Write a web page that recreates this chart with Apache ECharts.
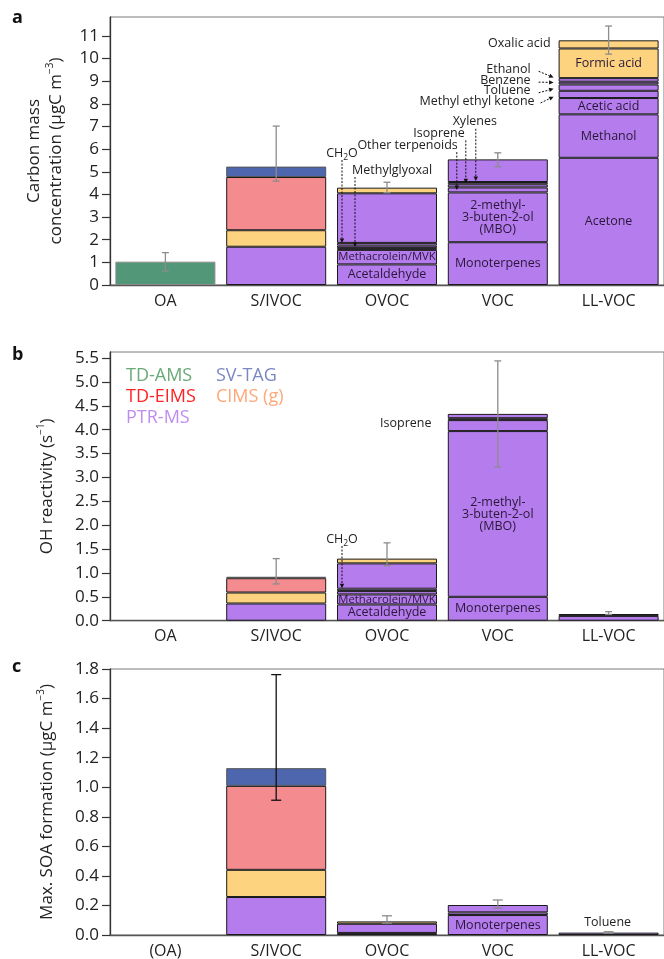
<!DOCTYPE html>
<html><head><meta charset="utf-8">
<script src="https://cdn.jsdelivr.net/npm/echarts@6/dist/echarts.min.js"></script>
<style>html,body{margin:0;padding:0;background:#fff}#c{width:664px;height:959px}</style>
</head><body><div id="c"></div>
<script>
// ---------------- DATA ----------------
const categoriesAB = ['OA', 'S/IVOC', 'OVOC', 'VOC', 'LL-VOC'];
const categoriesC = ['(OA)', 'S/IVOC', 'OVOC', 'VOC', 'LL-VOC'];

// Panel a: carbon mass concentration (µgC m-3), segments bottom -> top
const aOA    = [1.03];
const aSIVOC = [1.69, 0.73, 2.35, 0.46];
const aOVOC  = [0.91, 0.64, 0.08, 0.11, 0.12, 2.19, 0.25];
const aVOC   = [1.89, 2.20, 0.22, 0.14, 0.10, 1.00];
const aLLVOC = [5.62, 1.92, 0.72, 0.32, 0.28, 0.12, 0.16, 1.31, 0.36];

// Panel b: OH reactivity (s-1)
const bOA    = [];
const bSIVOC = [0.36, 0.23, 0.30, 0.03];
const bOVOC  = [0.34, 0.21, 0.07, 0.05, 0.53, 0.10];
const bVOC   = [0.50, 3.47, 0.23, 0.04, 0.09];
const bLLVOC = [0.10, 0.04];

// Panel c: max SOA formation (µgC m-3)
const cOA    = [];
const cSIVOC = [0.257, 0.184, 0.568, 0.120];
const cOVOC  = [0.014, 0.062, 0.016];
const cVOC   = [0.135, 0.018, 0.050];
const cLLVOC = [0.016];

// Instrument of each segment
const instOA    = ['AMS'];
const instSIVOC = ['PTR', 'CIMS', 'EIMS', 'TAG'];
const instOVOCa = ['PTR', 'PTR', 'PTR', 'PTR', 'PTR', 'PTR', 'CIMS'];
const instVOCa  = ['PTR', 'PTR', 'PTR', 'PTR', 'PTR', 'PTR'];
const instLLa   = ['PTR', 'PTR', 'PTR', 'PTR', 'PTR', 'PTR', 'PTR', 'CIMS', 'CIMS'];
const instOVOCb = ['PTR', 'PTR', 'PTR', 'PTR', 'PTR', 'CIMS'];
const instVOCb  = ['PTR', 'PTR', 'PTR', 'PTR', 'PTR'];
const instLLb   = ['PTR', 'PTR'];
const instOVOCc = ['PTR', 'PTR', 'CIMS'];
const instVOCc  = ['PTR', 'PTR', 'PTR'];
const instLLc   = ['PTR'];

// Segment names drawn inside bars
const MBO = '2-methyl-\n3-buten-2-ol\n(MBO)';
const namesOVOC = ['Acetaldehyde', 'Methacrolein/MVK'];
const namesVOC  = ['Monoterpenes', MBO];
const namesLL   = ['Acetone', 'Methanol', 'Acetic acid', '', '', '', '', 'Formic acid', ''];
const namesVOCc = ['Monoterpenes'];

// Error bars [low, high]
const errA = [[0.62, 1.43], [4.59, 7.02], [4.08, 4.54], [5.23, 5.84], [10.2, 11.44]];
const errB = [null, [0.77, 1.30], [1.15, 1.63], [3.22, 5.44], [0.13, 0.19]];
const errC = [null, [0.912, 1.762], [0.08, 0.13], [0.182, 0.237], [0.012, 0.022]];

// Tick labels
const ticksA = [0,1,2,3,4,5,6,7,8,9,10,11];
const ticksB = [0,0.5,1,1.5,2,2.5,3,3.5,4,4.5,5,5.5];
const ticksC = [0,0.2,0.4,0.6,0.8,1.0,1.2,1.4,1.6,1.8];

// Annotations (category, target value, label value); subscript parts as [main, sub, rest]
const annTextA   = [['CH', '2', 'O'], ['Methylglyoxal'], ['Other terpenoids'], ['Isoprene'], ['Xylenes'], ['Oxalic acid'], ['Ethanol'], ['Benzene'], ['Toluene'], ['Methyl ethyl ketone']];
const annCatA    = [2, 2, 3, 3, 3, 4, 4, 4, 4, 4];
const annTargetA = [1.86, 1.68, 4.20, 4.49, 4.60, 10.63, 9.17, 8.95, 8.67, 8.32];
const annLabelA  = [5.83, 5.08, 6.18, 6.70, 7.21, 10.66, 9.53, 9.05, 8.58, 8.13];
const annTextB   = [['CH', '2', 'O'], ['Isoprene']];
const annCatB    = [2, 3];
const annTargetB = [0.68, 4.12];
const annLabelB  = [1.71, 4.12];
const annTextC   = [['Toluene']];
const annCatC    = [4];
const annTargetC = [0.085];
const annLabelC  = [0.085];

// ---------------- STYLE ----------------
const FONT = '"Open Sans", "Noto Sans", sans-serif';
const COL = {AMS: '#529778', PTR: '#b57cee', CIMS: '#fdd380', EIMS: '#f48c8f', TAG: '#4d66ad'};
const BORDER = {AMS: '#8a8a8a', PTR: '#1a1a1a', CIMS: '#1a1a1a', EIMS: '#1a1a1a', TAG: '#555'};
// annotation layout: kind, label dx, align, arrow dx start, arrow dx end
const annLayoutA = [
  ['down', -45, 'center', -45], ['down', -35, 'left', -32], ['down', -40, 'right', -41],
  ['down', -33, 'right', -32], ['down', -23, 'center', -22], ['none', -58, 'right'],
  ['right', -78, 'right', -70, -55], ['right', -78, 'right', -70, -55],
  ['right', -78, 'right', -70, -55], ['right', -74, 'right', -68, -55]
];
const annLayoutB = [['down', -45, 'center', -45], ['none', -92, 'center']];
const annLayoutC = [['none', -1, 'center']];
const errColA = ['#8c8c8c', '#8c8c8c', '#8c8c8c', '#8c8c8c', '#8c8c8c'];
const errColB = errColA;
const errColC = ['#111', '#111', '#8c8c8c', '#8c8c8c', '#8c8c8c'];
const capHW = [3.5, 3.5, 5];
const ANN_FS = 12.5, SUB_FS = 8.5;

const measureCtx = document.createElement('canvas').getContext('2d');
function textW(t, fs) { measureCtx.font = fs + 'px ' + FONT; return measureCtx.measureText(t).width; }

// ---------------- BUILD ----------------
const series = [];
function buildBars(pi, segs, insts, names) {
  const n = Math.max(...segs.map(s => s.length));
  for (let i = 0; i < n; i++) {
    series.push({
      type: 'bar', xAxisIndex: pi, yAxisIndex: pi, stack: 'p' + pi, barWidth: 100,
      animation: false, silent: true,
      data: segs.map((s, ci) => {
        if (i >= s.length) return '-';
        const inst = insts[ci][i];
        const nm = names[ci] ? names[ci][i] : '';
        const item = {value: s[i], itemStyle: {color: COL[inst], borderColor: BORDER[inst], borderWidth: 1}};
        if (nm) {
          item.label = {show: true, position: 'inside', formatter: nm, color: '#2a1838',
            fontFamily: FONT, fontSize: nm === 'Methacrolein/MVK' ? 11.3 : 12.5, lineHeight: 12,
            textBorderWidth: 0};
        }
        return item;
      })
    });
  }
}
buildBars(0, [aOA, aSIVOC, aOVOC, aVOC, aLLVOC], [instOA, instSIVOC, instOVOCa, instVOCa, instLLa], [null, null, namesOVOC, namesVOC, namesLL]);
buildBars(1, [bOA, bSIVOC, bOVOC, bVOC, bLLVOC], [instOA, instSIVOC, instOVOCb, instVOCb, instLLb], [null, null, namesOVOC, namesVOC, null]);
buildBars(2, [cOA, cSIVOC, cOVOC, cVOC, cLLVOC], [instOA, instSIVOC, instOVOCc, instVOCc, instLLc], [null, null, null, namesVOCc, null]);

function errorSeries(pi, err, colors) {
  series.push({
    type: 'custom', xAxisIndex: pi, yAxisIndex: pi, z: 15, silent: true, animation: false,
    data: err.map((e, i) => e ? [i, e[0], e[1]] : null).filter(Boolean),
    encode: {x: 0, y: [1, 2]},
    renderItem(params, api) {
      const i = api.value(0);
      const lo = api.coord([i, api.value(1)]), hi = api.coord([i, api.value(2)]);
      const hw = capHW[pi];
      const st = {stroke: colors[i], lineWidth: 1.3};
      return {type: 'group', children: [
        {type: 'line', shape: {x1: lo[0], y1: lo[1], x2: hi[0], y2: hi[1]}, style: st},
        {type: 'line', shape: {x1: lo[0] - hw, y1: lo[1], x2: lo[0] + hw, y2: lo[1]}, style: st},
        {type: 'line', shape: {x1: hi[0] - hw, y1: hi[1], x2: hi[0] + hw, y2: hi[1]}, style: st}
      ]};
    }
  });
}
errorSeries(0, errA, errColA);
errorSeries(1, errB, errColB);
errorSeries(2, errC, errColC);

function arrow(ch, x1, y1, x2, y2) {
  const dx = x2 - x1, dy = y2 - y1, L = Math.hypot(dx, dy), ux = dx / L, uy = dy / L;
  const hl = 4.5, hw = 2.2;
  const bx = x2 - ux * hl, by = y2 - uy * hl;
  ch.push({type: 'line', shape: {x1, y1, x2: bx, y2: by}, style: {stroke: '#111', lineWidth: 1, lineDash: [2, 1.5]}});
  ch.push({type: 'polygon', shape: {points: [[x2, y2], [bx - uy * hw, by + ux * hw], [bx + uy * hw, by - ux * hw]]}, style: {fill: '#111'}});
}
function pushText(ch, parts, x, y, align) {
  const ts = {fontFamily: FONT, fill: '#222', verticalAlign: 'middle', align: 'left'};
  if (parts.length === 1) {
    ch.push({type: 'text', style: Object.assign({}, ts, {x, y, text: parts[0], fontSize: ANN_FS, align})});
    return;
  }
  const w0 = textW(parts[0], ANN_FS), w1 = textW(parts[1], SUB_FS), w2 = textW(parts[2], ANN_FS);
  const W = w0 + w1 + w2;
  let x0 = align === 'center' ? x - W / 2 : align === 'right' ? x - W : x;
  ch.push({type: 'text', style: Object.assign({}, ts, {x: x0, y, text: parts[0], fontSize: ANN_FS})});
  ch.push({type: 'text', style: Object.assign({}, ts, {x: x0 + w0, y: y + 4.5, text: parts[1], fontSize: SUB_FS})});
  ch.push({type: 'text', style: Object.assign({}, ts, {x: x0 + w0 + w1, y, text: parts[2], fontSize: ANN_FS})});
}
function annSeries(pi, texts, cats, targets, labels, layout) {
  series.push({
    type: 'custom', xAxisIndex: pi, yAxisIndex: pi, z: 20, silent: true, animation: false,
    data: cats.map((c, i) => [c, targets[i], labels[i]]),
    encode: {x: 0, y: [1, 2]},
    renderItem(params, api) {
      const k = params.dataIndex;
      const L = layout[k];
      const c = api.coord([api.value(0), api.value(2)]);
      const t = api.coord([api.value(0), api.value(1)]);
      const ch = [];
      pushText(ch, texts[k], c[0] + L[1], c[1], L[2]);
      if (L[0] === 'down') arrow(ch, t[0] + L[3], c[1] + 7, t[0] + L[3], t[1]);
      else if (L[0] === 'right') arrow(ch, t[0] + L[3], c[1] + 2, t[0] + L[4], t[1]);
      return {type: 'group', children: ch};
    }
  });
}
annSeries(0, annTextA, annCatA, annTargetA, annLabelA, annLayoutA);
annSeries(1, annTextB, annCatB, annTargetB, annLabelB, annLayoutB);
annSeries(2, annTextC, annCatC, annTargetC, annLabelC, annLayoutC);

const gridBox = {show: true, borderColor: '#7a7a7a', borderWidth: 1, backgroundColor: 'transparent'};
const grid = [
  Object.assign({left: 110, top: 17, width: 557.5, height: 268}, gridBox),
  Object.assign({left: 110, top: 352, width: 557.5, height: 268.7}, gridBox),
  Object.assign({left: 110, top: 669, width: 557.5, height: 266.3}, gridBox)
];
function xAxis(gi, cats) {
  return {type: 'category', gridIndex: gi, data: cats,
    axisLine: {lineStyle: {color: '#555', width: 1.3}}, axisTick: {show: false},
    axisLabel: {fontFamily: FONT, fontSize: 16, color: '#222', margin: 8}};
}
function yAxis(gi, max, ticks, fmt, name, gap, interval) {
  return {type: 'value', gridIndex: gi, min: 0, max: max, interval: interval,
    axisLine: {show: true, lineStyle: {color: '#333', width: 1.3}},
    axisTick: {show: true, length: 8, customValues: ticks, lineStyle: {color: '#333', width: 1.2}},
    axisLabel: {customValues: ticks, formatter: fmt, fontFamily: FONT, fontSize: 17, color: '#222', margin: 11},
    splitLine: {show: false},
    name: name, nameLocation: 'middle', nameRotate: 90, nameGap: gap,
    nameTextStyle: {fontFamily: FONT, fontSize: 17, color: '#222', lineHeight: 22,
      rich: {sup: {fontFamily: FONT, fontSize: 10, color: '#222', verticalAlign: 'top', lineHeight: 10}}}};
}

const option = {
  animation: false,
  backgroundColor: '#fff',
  grid: grid,
  xAxis: [xAxis(0, categoriesAB), xAxis(1, categoriesAB), xAxis(2, categoriesC)],
  yAxis: [
    yAxis(0, 11.84, ticksA, v => String(v), 'Carbon mass\nconcentration (μgC m{sup|−3})', 43, 1),
    yAxis(1, 5.626, ticksB, v => v.toFixed(1), 'OH reactivity (s{sup|−1})', 52, 0.5),
    yAxis(2, 1.8, ticksC, v => v.toFixed(1), 'Max. SOA formation (μgC m{sup|−3})', 52, 0.2)
  ],
  series: series,
  graphic: [
    {type: 'text', style: {x: 12, y: 18, text: 'a', fontFamily: FONT, fontWeight: 'bold', fontSize: 18, fill: '#111', verticalAlign: 'middle'}},
    {type: 'text', style: {x: 12, y: 355, text: 'b', fontFamily: FONT, fontWeight: 'bold', fontSize: 18, fill: '#111', verticalAlign: 'middle'}},
    {type: 'text', style: {x: 12, y: 667, text: 'c', fontFamily: FONT, fontWeight: 'bold', fontSize: 18, fill: '#111', verticalAlign: 'middle'}},
    {type: 'text', style: {x: 126, y: 376, text: 'TD-AMS', fontFamily: FONT, fontSize: 18, fill: '#6aaa76', verticalAlign: 'middle'}},
    {type: 'text', style: {x: 126, y: 397, text: 'TD-EIMS', fontFamily: FONT, fontSize: 18, fill: '#ff2222', verticalAlign: 'middle'}},
    {type: 'text', style: {x: 126, y: 418, text: 'PTR-MS', fontFamily: FONT, fontSize: 18, fill: '#c08cf2', verticalAlign: 'middle'}},
    {type: 'text', style: {x: 216, y: 376, text: 'SV-TAG', fontFamily: FONT, fontSize: 18, fill: '#7a88c4', verticalAlign: 'middle'}},
    {type: 'text', style: {x: 216, y: 397, text: 'CIMS (g)', fontFamily: FONT, fontSize: 18, fill: '#fca878', verticalAlign: 'middle'}}
  ]
};
const chart = echarts.init(document.getElementById('c'));
chart.setOption(option);
</script>
</body></html>
